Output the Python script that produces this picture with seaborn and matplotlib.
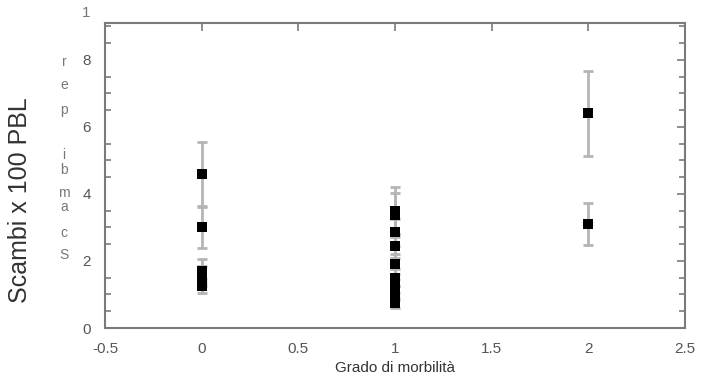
import matplotlib
matplotlib.use("Agg")
import matplotlib.pyplot as plt
import seaborn as sns
import pandas as pd
from matplotlib.ticker import MultipleLocator

# Data
grade = [0, 0, 0, 0, 0,
         1, 1, 1, 1, 1, 1, 1, 1, 1,
         2, 2]
exchanges = [4.6, 3.0, 1.7, 1.55, 1.25,
             3.5, 3.38, 2.85, 2.45, 1.9, 1.5, 1.25, 1.05, 0.75,
             6.4, 3.1]
errors = [0.95, 0.62, 0.35, 0.3, 0.2,
          0.7, 0.65, 0.4, 0.35, 0.3, 0.25, 0.2, 0.2, 0.15,
          1.27, 0.62]

xticks = [-0.5, 0, 0.5, 1, 1.5, 2, 2.5]
xtick_labels = ["-0.5", "0", "0.5", "1", "1.5", "2", "2.5"]
yticks = [0, 2, 4, 6, 8]
ytick_labels = ["0", "2", "4", "6", "8"]
stacked_letters = list("Scambiper")

df = pd.DataFrame({"grade": grade, "exchanges": exchanges, "err": errors})

sns.set_theme(style="white")
plt.rcParams['font.family'] = ['Liberation Sans', 'DejaVu Sans']

fig = plt.figure(figsize=(7.03, 3.9), dpi=100)
ax = fig.add_axes([105/703, 62/390, 580/703, 305/390])

ax.errorbar(df["grade"], df["exchanges"], yerr=df["err"], fmt="none",
            ecolor="#b5b5b5", elinewidth=2, capsize=3.5, capthick=2, zorder=1)
sns.scatterplot(data=df, x="grade", y="exchanges", marker="s", s=55,
                color="black", edgecolor="black", linewidth=0, ax=ax, zorder=3)

ax.set_xlim(-0.5, 2.5)
ax.set_ylim(0, 9.1)
ax.set_xticks(xticks)
ax.set_xticklabels(xtick_labels)
ax.set_yticks(yticks)
ax.set_yticklabels(ytick_labels)
ax.yaxis.set_minor_locator(MultipleLocator(0.5))

for sp in ax.spines.values():
    sp.set_color("#7a7a7a")
    sp.set_linewidth(1.5)

ax.tick_params(axis="both", which="major", direction="in", length=6, width=1.2,
               color="#7a7a7a", labelsize=11, labelcolor="#555555",
               top=True, right=True, pad=10)
ax.tick_params(axis="y", which="minor", direction="in", length=4, width=1.2,
               color="#7a7a7a", left=True, right=True)

ax.set_xlabel("Grado di morbilità", fontsize=11, color="#333333", labelpad=4)
ax.set_ylabel("")

fig.text(20/703, 1 - 200/390, "Scambi x 100 PBL", rotation=90, fontsize=18,
         color="#333333", ha="center", va="center")

letter_y = [255, 233, 207, 193, 170, 155, 110, 85, 62]
for ch, py in zip(stacked_letters, letter_y):
    fig.text(64/703, 1 - py/390, ch, fontsize=10, color="#777777",
             ha="center", va="center")
fig.text(86/703, 1 - 13/390, "1", fontsize=11, color="#777777",
         ha="center", va="center")

fig.savefig("out.png", dpi=100)
